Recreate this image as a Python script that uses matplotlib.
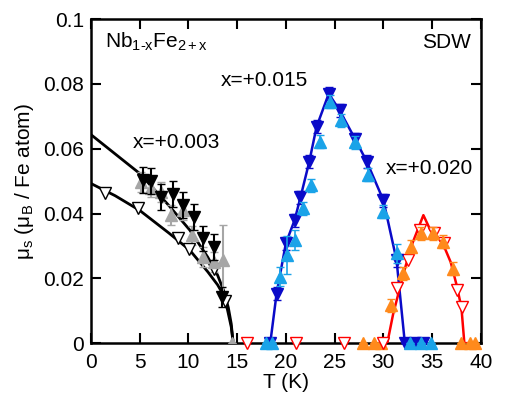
import matplotlib
matplotlib.use("Agg")
import matplotlib.pyplot as plt
import numpy as np

plt.rcParams['font.family'] = ['Liberation Sans', 'DejaVu Sans']
plt.rcParams['mathtext.fontset'] = 'custom'
plt.rcParams['mathtext.rm'] = 'Liberation Sans'
plt.rcParams['mathtext.it'] = 'Liberation Sans'

# x = +0.003 : black filled down triangles
T_blk = [5.4, 6.2, 7.25, 8.45, 9.5, 10.6, 11.5, 12.6, 13.5]
m_blk = [0.0503, 0.0500, 0.0450, 0.0460, 0.0426, 0.0390, 0.0323, 0.0297, 0.0143]
e_blk = [0.004, 0.004, 0.004, 0.004, 0.004, 0.004, 0.004, 0.004, 0.003]
# x = +0.003 : gray filled up triangles
T_gry = [5.2, 6.2, 7.25, 8.2, 9.5, 10.4, 11.5, 12.6, 13.6, 14.5]
m_gry = [0.0498, 0.0480, 0.0467, 0.0395, 0.0410, 0.0333, 0.0266, 0.0250, 0.0256, 0.0]
e_gry = [0.003, 0.003, 0.003, 0.003, 0.003, 0.003, 0.003, 0.003, 0.011, 0.0]
# x = +0.003 : open down triangles
T_opn = [1.45, 4.85, 8.95, 10.1, 12.6, 13.8]
m_opn = [0.0462, 0.0416, 0.0323, 0.0290, 0.0230, 0.0130]
# fit lines
T_fit1 = [0.0, 2.0, 5.0, 8.0, 10.15, 12.0, 13.0, 13.6, 14.1, 14.4, 14.6]
m_fit1 = [0.0644, 0.0596, 0.0524, 0.0425, 0.0349, 0.0265, 0.0210, 0.0164, 0.0110, 0.0060, 0.0]
T_fit2 = [0.0, 2.5, 5.0, 8.0, 10.15, 12.0, 13.0, 13.5, 14.0, 14.4, 14.6]
m_fit2 = [0.0493, 0.0455, 0.0410, 0.0340, 0.0287, 0.0220, 0.0180, 0.0154, 0.0105, 0.0050, 0.0]

# red open triangles at zero
T_red0 = [16.0, 21.0, 26.0, 30.0]

# x = +0.015 : dark blue down triangles
T_db = [18.4, 19.05, 20.0, 20.9, 21.5, 22.4, 23.15, 24.4, 25.5, 27.1, 28.3, 30.0, 31.35, 32.2, 33.2, 34.05]
m_db = [0.0, 0.0153, 0.0308, 0.0380, 0.0450, 0.0560, 0.0668, 0.0770, 0.0719, 0.0630, 0.0560, 0.0441, 0.0256, 0.0, 0.0, 0.0]
e_db = [0.0, 0.002, 0.002, 0.002, 0.002, 0.002, 0.002, 0.002, 0.002, 0.002, 0.002, 0.002, 0.002, 0.0, 0.0, 0.0]
# x = +0.015 : light blue up triangles
T_lb = [18.0, 18.6, 19.4, 20.1, 20.9, 21.8, 22.55, 23.5, 24.5, 25.7, 27.1, 28.45, 30.0, 31.35, 32.7, 33.9, 34.9]
m_lb = [0.0, 0.0, 0.0205, 0.0272, 0.0318, 0.0416, 0.0488, 0.0621, 0.0745, 0.0688, 0.0620, 0.0520, 0.0405, 0.0277, 0.0, 0.0, 0.0]
e_lb = [0.0, 0.0, 0.003, 0.006, 0.003, 0.002, 0.002, 0.002, 0.002, 0.002, 0.002, 0.002, 0.002, 0.003, 0.0, 0.0, 0.0]

# x = +0.020 : red line
T_rl = [30.4, 31.0, 31.6, 32.3, 33.0, 34.1, 34.8, 35.5, 36.2, 36.9, 37.5, 38.0, 38.3, 38.8]
m_rl = [0.0, 0.0090, 0.0160, 0.0240, 0.0310, 0.0395, 0.0350, 0.0330, 0.0300, 0.0250, 0.0180, 0.0110, 0.0, 0.0]
# x = +0.020 : red open down triangles
T_ro = [31.4, 32.55, 33.75, 35.2, 36.2, 37.5, 38.1]
m_ro = [0.0169, 0.0256, 0.0349, 0.0340, 0.0310, 0.0164, 0.0112]
# x = +0.020 : orange up triangles
T_or = [27.9, 29.0, 29.8, 30.8, 32.0, 32.8, 33.9, 35.1, 36.1, 37.1, 38.0, 38.9, 39.4]
m_or = [0.0, 0.0, 0.0, 0.0117, 0.0215, 0.0297, 0.0339, 0.0339, 0.0313, 0.0230, 0.0, 0.0, 0.0]
e_or = [0.0, 0.0, 0.0, 0.002, 0.002, 0.002, 0.002, 0.002, 0.002, 0.002, 0.0, 0.0, 0.0]

DARKBLUE = '#0a0ac8'
LIGHTBLUE = '#1aa3e8'
ORANGE = '#ff8a1c'
GRAY = '#a6a6a6'

fig = plt.figure(figsize=(5.1, 3.99), dpi=100)
ax = fig.add_axes([0.178, 0.140, 0.765, 0.812])

ms = 8.5
# x = +0.003
ax.plot(T_fit1, m_fit1, color='black', lw=2, zorder=3)
ax.plot(T_fit2, m_fit2, color='black', lw=2, zorder=3)
ax.errorbar(T_gry, m_gry, yerr=e_gry, fmt='^', color=GRAY, ms=ms, capsize=3, elinewidth=1.5, zorder=4)
ax.errorbar(T_blk, m_blk, yerr=e_blk, fmt='v', color='black', ms=ms, capsize=3, elinewidth=1.5, zorder=5)
ax.plot(T_opn, m_opn, 'v', mfc='white', mec='black', ms=ms, mew=1, zorder=4)

ax.plot(T_red0, [0] * len(T_red0), 'v', mfc='white', mec='red', ms=ms, mew=1, clip_on=False, zorder=6)

# x = +0.015
ax.plot(T_db, m_db, '-', color=DARKBLUE, lw=1.8, zorder=3)
ax.errorbar(T_db, m_db, yerr=e_db, fmt='v', color=DARKBLUE, ms=ms, capsize=3, elinewidth=1.2, clip_on=False, zorder=4)
ax.errorbar(T_lb, m_lb, yerr=e_lb, fmt='^', color=LIGHTBLUE, ms=ms, capsize=3, elinewidth=1.2, clip_on=False, zorder=5)

# x = +0.020
ax.plot(T_rl, m_rl, '-', color='red', lw=1.8, zorder=3)
ax.plot(T_ro, m_ro, 'v', mfc='white', mec='red', ms=ms, mew=1, zorder=4)
ax.errorbar(T_or, m_or, yerr=e_or, fmt='^', color=ORANGE, ms=ms, capsize=3, elinewidth=1.2, clip_on=False, zorder=5)

ax.set_xlim(0, 40)
ax.set_ylim(0, 0.1)
ax.set_xticks(range(0, 41, 5))
ax.set_yticks([0, 0.02, 0.04, 0.06, 0.08, 0.1])
ax.set_yticklabels(['0', '0.02', '0.04', '0.06', '0.08', '0.1'])
ax.tick_params(direction='in', top=True, right=True, length=7, width=1.5, labelsize=15, pad=5)
ax.tick_params(axis='x', pad=7)
for s in ax.spines.values():
    s.set_linewidth(1.8)

ax.set_xlabel('T (K)', fontsize=15, labelpad=1)
ax.set_ylabel(r'$\mathregular{\mu_s\ (\mu_B\ /\ Fe\ atom)}$', fontsize=15, labelpad=5)

ax.text(1.5, 0.0912, r'$\mathregular{Nb_{1\text{-}x}Fe_{2+x}}$', fontsize=15)
ax.text(36.5, 0.0912, 'SDW', fontsize=15, ha='center')
ax.text(17.8, 0.0793, 'x=+0.015', fontsize=15, ha='center')
ax.text(4.3, 0.0603, 'x=+0.003', fontsize=15)
ax.text(30.2, 0.0523, 'x=+0.020', fontsize=15)

fig.savefig('out.png', dpi=100)
